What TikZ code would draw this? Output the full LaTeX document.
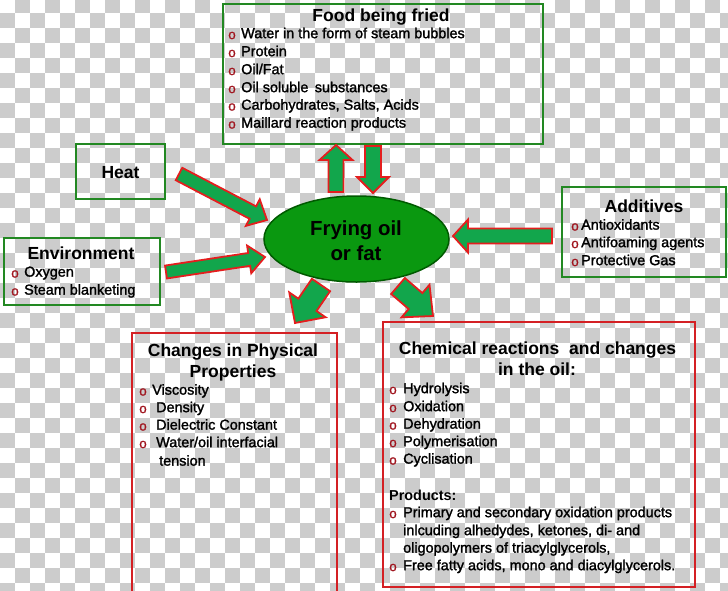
\documentclass[tikz,border=0pt]{standalone}
\usepackage{fontspec}
\setmainfont{Liberation Sans}
\newfontfamily\titlefont{Liberation Sans Bold}
\font\itemfnt="Liberation Sans:embolden=1.6" at 14.4pt
\font\bulfnt="Liberation Sans:embolden=1.2" at 13.5pt
\usetikzlibrary{calc,shapes.geometric}
\definecolor{checkgray}{RGB}{204,204,204}
\definecolor{boxgreen}{RGB}{34,136,34}
\definecolor{boxred}{RGB}{212,32,36}
\definecolor{arrgreen}{RGB}{18,166,76}
\definecolor{arrred}{RGB}{228,30,30}
\definecolor{ellgreen}{RGB}{10,152,16}
\definecolor{elldark}{RGB}{0,90,0}
\definecolor{bulred}{RGB}{160,20,30}
\tikzset{
  gbox/.style={draw=boxgreen, line width=2pt, inner sep=0pt, rectangle},
  rbox/.style={draw=boxred, line width=2pt, inner sep=0pt, rectangle},
  ttl/.style={font=\fontsize{17.5}{21}\titlefont, inner sep=0pt, anchor=mid},
  itm/.style={font=\itemfnt, anchor=mid west, inner sep=0pt},
  btl/.style={font=\fontsize{14.4}{17}\titlefont, anchor=mid west, inner sep=0pt},
  bul/.style={font=\bulfnt, text=bulred, inner sep=0pt},
  blockarr/.style={fill=arrgreen, draw=arrred, line width=1.8pt, line join=miter},
}
\newcommand\bitem[5]{%
  \node[bul] (#1b) at (#2,#4+1.5) {o};
  \node[itm] (#1) at (#3,#4+1.5) {#5};}
\newcommand\blockarrow[5]{% tail, tip, half shaft, half head, head length
  \path let \p1=($(#2)-(#1)$) in \pgfextra{%
    \pgfmathsetmacro\arrlen{veclen(\x1,\y1)}%
    \pgfmathsetmacro\arrang{atan2(\y1,\x1)}%
    \global\let\garrlen\arrlen\global\let\garrang\arrang};
  \begin{scope}[shift={(#1)}, rotate=\garrang]
    \draw[blockarr] (0,-#3) -- ({\garrlen-#5},-#3) -- ({\garrlen-#5},-#4)
      -- (\garrlen,0) -- ({\garrlen-#5},#4) -- ({\garrlen-#5},#3) -- (0,#3) -- cycle;
  \end{scope}}
\begin{document}
\begin{tikzpicture}[x=1pt,y=-1pt]
\useasboundingbox (0,0) rectangle (728,590);
\fill[white] (0,0) rectangle (728,590);
% checkerboard background
\foreach \j in {0,2,...,38}{
  \foreach \i in {1,3,...,49}{
    \fill[checkgray] (15*\i,15*\j-2) rectangle ++(15,15);}}
\foreach \j in {1,3,...,39}{
  \foreach \i in {0,2,...,48}{
    \fill[checkgray] (15*\i,15*\j-2) rectangle ++(15,15);}}

% boxes
\node[gbox, minimum width=320pt, minimum height=140pt] (food) at (383,74) {};
\node[gbox, minimum width=89pt, minimum height=55pt] (heatbox) at (120.5,171.5) {};
\node[gbox, minimum width=156pt, minimum height=67pt] (envbox) at (82,271.5) {};
\node[gbox, minimum width=164pt, minimum height=90pt] (addbox) at (644,232) {};
\node[rbox, minimum width=205pt, minimum height=260pt] (physbox) at (234.5,463) {};
\node[rbox, minimum width=312pt, minimum height=265pt] (chembox) at (539,454.5) {};

% Food box text
\node[ttl] (foodt) at (381,19) {Food being fried};
\bitem{f1}{232}{241}{34}{Water in the form of steam bubbles}
\bitem{f2}{232}{241}{52}{Protein}
\bitem{f3}{232}{241}{70}{Oil/Fat}
\bitem{f4}{232}{241}{88}{Oil soluble\, substances}
\bitem{f5}{232}{241}{105.5}{Carbohydrates, Salts, Acids}
\bitem{f6}{232}{241}{123.5}{Maillard reaction products}

% Heat
\node[ttl] (heatt) at (120.5,175.5) {Heat};

% Environment
\node[ttl] (envt) at (81,257) {Environment};
\bitem{e1}{15}{24}{272.5}{Oxygen}
\bitem{e2}{15}{24}{290.5}{Steam blanketing}

% Additives
\node[ttl] (addt) at (644,209.5) {Additives};
\bitem{a1}{575}{581}{225.5}{Antioxidants}
\bitem{a2}{575}{581}{243}{Antifoaming agents}
\bitem{a3}{575}{581}{261}{Protective Gas}

% Physical properties
\node[ttl] (phys1) at (233,354) {Changes in Physical};
\node[ttl] (phys2) at (233,375) {Properties};
\bitem{p1}{143}{152}{390.5}{Viscosity}
\bitem{p2}{143}{156}{408}{Density}
\bitem{p3}{143}{156}{425.5}{Dielectric Constant}
\bitem{p4}{143}{156}{443}{Water/oil interfacial}
\node[itm] (p5) at (159,463) {tension};

% Chemical reactions
\node[ttl] (chem1) at (537.5,352) {Chemical reactions\ \ and changes};
\node[ttl] (chem2) at (537,373) {in the oil:};
\bitem{c1}{393}{403}{389}{Hydrolysis}
\bitem{c2}{393}{403}{407}{Oxidation}
\bitem{c3}{393}{403}{424.5}{Dehydration}
\bitem{c4}{393}{403}{442}{Polymerisation}
\bitem{c5}{393}{403}{459.5}{Cyclisation}
\node[btl] (prod) at (389,497.5) {Products:};
\bitem{c6}{393}{403}{513}{Primary and secondary oxidation products}
\node[itm] (c7) at (403,532.5) {inlcuding alhedydes, ketones, di- and};
\node[itm] (c8) at (403,550) {oligopolymers of triacylglycerols,};
\bitem{c9}{393}{403}{566}{Free fatty acids, mono and diacylglycerols.}

% block arrows
\coordinate (heatT) at (179,174);  \coordinate (heatH) at (267,220);
\coordinate (envT) at (166,272);   \coordinate (envH) at (265,257);
\coordinate (addT) at (552,236);   \coordinate (addH) at (453,236);
\coordinate (upT) at (336,192);    \coordinate (upH) at (336,145);
\coordinate (dnT) at (373,146);    \coordinate (dnH) at (373,193);
\coordinate (dlT) at (321,285);    \coordinate (dlH) at (295,323);
\coordinate (drT) at (398,286);    \coordinate (drH) at (433,316);
\blockarrow{heatT}{heatH}{7}{15}{16}
\blockarrow{envT}{envH}{6.5}{14}{16}
\blockarrow{addT}{addH}{7.5}{16.5}{15}
\blockarrow{upT}{upH}{7.5}{16.5}{15}
\blockarrow{dnT}{dnH}{8}{16}{16}
\blockarrow{dlT}{dlH}{11}{22}{22}
\blockarrow{drT}{drH}{10.5}{21.5}{23}

% central ellipse
\node[ellipse, fill=ellgreen, draw=elldark, line width=1.5pt,
      minimum width=185pt, minimum height=86pt, inner sep=0pt] (oil) at (356.5,239) {};
\node[font=\fontsize{20.4}{25}\titlefont, align=center, inner sep=0pt] (oilt) at (356,240.5) {Frying oil\\or fat};
\end{tikzpicture}
\end{document}
